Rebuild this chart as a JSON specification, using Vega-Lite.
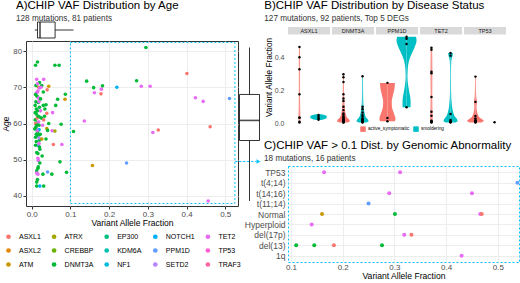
{
"$schema": "https://vega.github.io/schema/vega-lite/v6.json",
"padding": {"left": 1, "top": 0, "right": 0, "bottom": 0},
"config": {
 "font": "Liberation Sans",
 "view": {"stroke": null},
 "axis": {"labelColor": "#4D4D4D", "titleColor": "#000000", "titleFontWeight": "normal", "gridColor": "#EBEBEB", "gridWidth": 0.9, "domain": false, "tickColor": "#333333"},
 "title": {"fontWeight": "normal", "fontSize": 11.5, "subtitleFontSize": 8.2, "subtitleColor": "#333333", "anchor": "start", "color": "#000000", "subtitlePadding": 0},
 "legend": {"labelColor": "#000000"}
},
"datasets": {
 "muts": [
  {"gene":"DNMT3A","vaf":0.010,"age":76.1},{"gene":"DNMT3A","vaf":0.015,"age":77.0},{"gene":"TET2","vaf":0.013,"age":72.2},{"gene":"DNMT3A","vaf":0.020,"age":71.3},
  {"gene":"ATM","vaf":0.018,"age":70.0},{"gene":"TET2","vaf":0.016,"age":69.0},{"gene":"TET2","vaf":0.012,"age":68.4},{"gene":"TET2","vaf":0.014,"age":68.6},
  {"gene":"TET2","vaf":0.020,"age":69.8},{"gene":"DNMT3A","vaf":0.011,"age":66.0},{"gene":"DNMT3A","vaf":0.017,"age":65.8},{"gene":"TET2","vaf":0.019,"age":66.0},
  {"gene":"DNMT3A","vaf":0.009,"age":63.0},{"gene":"DNMT3A","vaf":0.012,"age":62.6},{"gene":"DNMT3A","vaf":0.020,"age":61.8},{"gene":"DNMT3A","vaf":0.009,"age":61.0},
  {"gene":"DNMT3A","vaf":0.015,"age":60.2},{"gene":"ASXL1","vaf":0.010,"age":60.0},{"gene":"DNMT3A","vaf":0.013,"age":59.5},{"gene":"TET2","vaf":0.018,"age":60.5},
  {"gene":"TET2","vaf":0.011,"age":58.8},{"gene":"NOTCH1","vaf":0.019,"age":58.3},{"gene":"DNMT3A","vaf":0.015,"age":57.8},{"gene":"DNMT3A","vaf":0.010,"age":56.2},
  {"gene":"DNMT3A","vaf":0.016,"age":56.6},{"gene":"DNMT3A","vaf":0.020,"age":55.4},{"gene":"PPM1D","vaf":0.017,"age":53.9},{"gene":"DNMT3A","vaf":0.020,"age":53.5},
  {"gene":"DNMT3A","vaf":0.021,"age":52.9},{"gene":"DNMT3A","vaf":0.016,"age":51.7},{"gene":"TET2","vaf":0.016,"age":50.4},{"gene":"TET2","vaf":0.017,"age":49.8},
  {"gene":"DNMT3A","vaf":0.021,"age":49.1},{"gene":"DNMT3A","vaf":0.016,"age":47.6},{"gene":"DNMT3A","vaf":0.013,"age":46.9},{"gene":"TET2","vaf":0.013,"age":46.3},
  {"gene":"TET2","vaf":0.016,"age":46.0},{"gene":"DNMT3A","vaf":0.013,"age":43.8},{"gene":"DNMT3A","vaf":0.013,"age":42.7},{"gene":"NOTCH1","vaf":0.021,"age":42.7},
  {"gene":"DNMT3A","vaf":0.012,"age":64.0},{"gene":"DNMT3A","vaf":0.015,"age":63.5},{"gene":"DNMT3A","vaf":0.011,"age":59.0},{"gene":"TET2","vaf":0.014,"age":58.0},
  {"gene":"DNMT3A","vaf":0.018,"age":57.0},{"gene":"DNMT3A","vaf":0.012,"age":55.0},{"gene":"TET2","vaf":0.019,"age":54.5},{"gene":"DNMT3A","vaf":0.010,"age":54.0},
  {"gene":"DNMT3A","vaf":0.014,"age":67.5},{"gene":"TET2","vaf":0.018,"age":67.0},{"gene":"DNMT3A","vaf":0.011,"age":70.5},{"gene":"TET2","vaf":0.015,"age":71.0},
  {"gene":"DNMT3A","vaf":0.020,"age":64.5},{"gene":"DNMT3A","vaf":0.009,"age":65.0},{"gene":"ASXL1","vaf":0.014,"age":61.5},{"gene":"DNMT3A","vaf":0.017,"age":62.0},
  {"gene":"DNMT3A","vaf":0.012,"age":57.0},{"gene":"DNMT3A","vaf":0.019,"age":59.5},{"gene":"DNMT3A","vaf":0.013,"age":52.0},{"gene":"DNMT3A","vaf":0.017,"age":48.0},
  {"gene":"DNMT3A","vaf":0.015,"age":44.5},{"gene":"DNMT3A","vaf":0.010,"age":68.0},{"gene":"SETD2","vaf":0.019,"age":56.0},{"gene":"DNMT3A","vaf":0.008,"age":58.5},
  {"gene":"TET2","vaf":0.031,"age":72.2},{"gene":"DNMT3A","vaf":0.026,"age":70.5},{"gene":"TET2","vaf":0.024,"age":70.0},{"gene":"ATM","vaf":0.044,"age":70.3},
  {"gene":"ASXL1","vaf":0.040,"age":69.3},{"gene":"DNMT3A","vaf":0.030,"age":68.7},{"gene":"DNMT3A","vaf":0.030,"age":65.0},{"gene":"DNMT3A","vaf":0.037,"age":65.2},
  {"gene":"ASXL1","vaf":0.039,"age":62.8},{"gene":"TET2","vaf":0.054,"age":63.0},{"gene":"DNMT3A","vaf":0.033,"age":62.0},{"gene":"DNMT3A","vaf":0.025,"age":61.5},
  {"gene":"ASXL1","vaf":0.031,"age":61.0},{"gene":"DNMT3A","vaf":0.044,"age":60.0},{"gene":"ATM","vaf":0.039,"age":58.6},{"gene":"DNMT3A","vaf":0.041,"age":58.1},
  {"gene":"TET2","vaf":0.053,"age":58.0},{"gene":"ATRX","vaf":0.060,"age":57.9},{"gene":"DNMT3A","vaf":0.037,"age":55.7},{"gene":"ATM","vaf":0.026,"age":55.7},
  {"gene":"ASXL1","vaf":0.056,"age":54.2},{"gene":"PPM1D","vaf":0.041,"age":46.6},{"gene":"DNMT3A","vaf":0.029,"age":46.0},{"gene":"DNMT3A","vaf":0.052,"age":46.0},
  {"gene":"DNMT3A","vaf":0.031,"age":42.7},{"gene":"DNMT3A","vaf":0.060,"age":76.1},{"gene":"DNMT3A","vaf":0.023,"age":66.8},{"gene":"TET2","vaf":0.028,"age":59.5},
  {"gene":"DNMT3A","vaf":0.022,"age":57.0},{"gene":"DNMT3A","vaf":0.034,"age":64.0},{"gene":"DNMT3A","vaf":0.027,"age":51.0},{"gene":"TET2","vaf":0.023,"age":63.5},
  {"gene":"DNMT3A","vaf":0.071,"age":76.1},{"gene":"DNMT3A","vaf":0.087,"age":68.1},{"gene":"ATM","vaf":0.086,"age":66.7},{"gene":"DNMT3A","vaf":0.067,"age":66.7},
  {"gene":"DNMT3A","vaf":0.062,"age":65.0},{"gene":"DNMT3A","vaf":0.076,"age":59.8},{"gene":"TET2","vaf":0.078,"age":54.2},{"gene":"DNMT3A","vaf":0.073,"age":49.4},
  {"gene":"DNMT3A","vaf":0.090,"age":46.5},
  {"gene":"DNMT3A","vaf":0.142,"age":71.7},{"gene":"DNMT3A","vaf":0.160,"age":69.9},{"gene":"DNMT3A","vaf":0.183,"age":70.4},{"gene":"TET2","vaf":0.180,"age":69.5},
  {"gene":"TET2","vaf":0.162,"age":68.5},{"gene":"ASXL1","vaf":0.179,"age":68.2},{"gene":"NOTCH1","vaf":0.220,"age":70.0},{"gene":"TET2","vaf":0.136,"age":60.7},
  {"gene":"DNMT3A","vaf":0.108,"age":57.8},{"gene":"ATM","vaf":0.157,"age":48.4},{"gene":"PPM1D","vaf":0.245,"age":49.1},{"gene":"DNMT3A","vaf":0.295,"age":81.0},
  {"gene":"ASXL1","vaf":0.401,"age":73.8},{"gene":"DNMT3A","vaf":0.271,"age":71.8},{"gene":"TET2","vaf":0.283,"age":70.3},{"gene":"TET2","vaf":0.306,"age":70.3},
  {"gene":"TET2","vaf":0.423,"age":67.1},{"gene":"TET2","vaf":0.443,"age":66.1},{"gene":"PPM1D","vaf":0.511,"age":66.9},{"gene":"ASXL1","vaf":0.461,"age":59.1},
  {"gene":"ASXL1","vaf":0.327,"age":58.2},{"gene":"TET2","vaf":0.313,"age":57.5},{"gene":"TET2","vaf":0.456,"age":38.6}
 ],
 "bdata": [
  {"gene":"ASXL1","status":"active_symptomatic","vaf":0.462},{"gene":"ASXL1","status":"active_symptomatic","vaf":0.40},{"gene":"ASXL1","status":"active_symptomatic","vaf":0.327},{"gene":"ASXL1","status":"active_symptomatic","vaf":0.176},
  {"gene":"ASXL1","status":"active_symptomatic","vaf":0.035},{"gene":"ASXL1","status":"active_symptomatic","vaf":0.033},{"gene":"ASXL1","status":"active_symptomatic","vaf":0.005},{"gene":"ASXL1","status":"active_symptomatic","vaf":0.01},
  {"gene":"ASXL1","status":"smoldering","vaf":0.05},{"gene":"ASXL1","status":"smoldering","vaf":0.04},{"gene":"ASXL1","status":"smoldering","vaf":0.03},{"gene":"ASXL1","status":"smoldering","vaf":0.022},
  {"gene":"DNMT3A","status":"active_symptomatic","vaf":0.297},{"gene":"DNMT3A","status":"active_symptomatic","vaf":0.279},{"gene":"DNMT3A","status":"active_symptomatic","vaf":0.25},{"gene":"DNMT3A","status":"active_symptomatic","vaf":0.176},
  {"gene":"DNMT3A","status":"active_symptomatic","vaf":0.15},{"gene":"DNMT3A","status":"active_symptomatic","vaf":0.135},{"gene":"DNMT3A","status":"active_symptomatic","vaf":0.10},{"gene":"DNMT3A","status":"active_symptomatic","vaf":0.08},
  {"gene":"DNMT3A","status":"active_symptomatic","vaf":0.06},{"gene":"DNMT3A","status":"active_symptomatic","vaf":0.05},{"gene":"DNMT3A","status":"active_symptomatic","vaf":0.04},{"gene":"DNMT3A","status":"active_symptomatic","vaf":0.035},
  {"gene":"DNMT3A","status":"active_symptomatic","vaf":0.03},{"gene":"DNMT3A","status":"active_symptomatic","vaf":0.025},{"gene":"DNMT3A","status":"active_symptomatic","vaf":0.02},{"gene":"DNMT3A","status":"active_symptomatic","vaf":0.018},
  {"gene":"DNMT3A","status":"active_symptomatic","vaf":0.015},{"gene":"DNMT3A","status":"active_symptomatic","vaf":0.013},{"gene":"DNMT3A","status":"active_symptomatic","vaf":0.012},{"gene":"DNMT3A","status":"active_symptomatic","vaf":0.01},
  {"gene":"DNMT3A","status":"active_symptomatic","vaf":0.009},{"gene":"DNMT3A","status":"active_symptomatic","vaf":0.008},{"gene":"DNMT3A","status":"active_symptomatic","vaf":0.006},{"gene":"DNMT3A","status":"active_symptomatic","vaf":0.005},
  {"gene":"DNMT3A","status":"smoldering","vaf":0.285},{"gene":"DNMT3A","status":"smoldering","vaf":0.10},{"gene":"DNMT3A","status":"smoldering","vaf":0.085},{"gene":"DNMT3A","status":"smoldering","vaf":0.065},
  {"gene":"DNMT3A","status":"smoldering","vaf":0.05},{"gene":"DNMT3A","status":"smoldering","vaf":0.04},{"gene":"DNMT3A","status":"smoldering","vaf":0.03},{"gene":"DNMT3A","status":"smoldering","vaf":0.025},
  {"gene":"DNMT3A","status":"smoldering","vaf":0.02},{"gene":"DNMT3A","status":"smoldering","vaf":0.015},{"gene":"DNMT3A","status":"smoldering","vaf":0.012},{"gene":"DNMT3A","status":"smoldering","vaf":0.01},
  {"gene":"DNMT3A","status":"smoldering","vaf":0.008},{"gene":"DNMT3A","status":"smoldering","vaf":0.005},
  {"gene":"PPM1D","status":"active_symptomatic","vaf":0.245},{"gene":"PPM1D","status":"active_symptomatic","vaf":0.032},{"gene":"PPM1D","status":"active_symptomatic","vaf":0.012},
  {"gene":"PPM1D","status":"smoldering","vaf":0.525},{"gene":"PPM1D","status":"smoldering","vaf":0.513},{"gene":"PPM1D","status":"smoldering","vaf":0.48},{"gene":"PPM1D","status":"smoldering","vaf":0.097},
  {"gene":"TET2","status":"active_symptomatic","vaf":0.458},{"gene":"TET2","status":"active_symptomatic","vaf":0.446},{"gene":"TET2","status":"active_symptomatic","vaf":0.313},{"gene":"TET2","status":"active_symptomatic","vaf":0.303},
  {"gene":"TET2","status":"active_symptomatic","vaf":0.16},{"gene":"TET2","status":"active_symptomatic","vaf":0.07},{"gene":"TET2","status":"active_symptomatic","vaf":0.046},{"gene":"TET2","status":"active_symptomatic","vaf":0.015},
  {"gene":"TET2","status":"active_symptomatic","vaf":0.012},{"gene":"TET2","status":"active_symptomatic","vaf":0.01},{"gene":"TET2","status":"active_symptomatic","vaf":0.008},{"gene":"TET2","status":"active_symptomatic","vaf":0.005},
  {"gene":"TET2","status":"smoldering","vaf":0.426},{"gene":"TET2","status":"smoldering","vaf":0.41},{"gene":"TET2","status":"smoldering","vaf":0.056},{"gene":"TET2","status":"smoldering","vaf":0.02},
  {"gene":"TET2","status":"smoldering","vaf":0.012},{"gene":"TET2","status":"smoldering","vaf":0.01},{"gene":"TET2","status":"smoldering","vaf":0.008},{"gene":"TET2","status":"smoldering","vaf":0.005},
  {"gene":"TP53","status":"active_symptomatic","vaf":0.283},{"gene":"TP53","status":"active_symptomatic","vaf":0.13},{"gene":"TP53","status":"active_symptomatic","vaf":0.045},{"gene":"TP53","status":"active_symptomatic","vaf":0.03},
  {"gene":"TP53","status":"active_symptomatic","vaf":0.02},{"gene":"TP53","status":"active_symptomatic","vaf":0.015},{"gene":"TP53","status":"active_symptomatic","vaf":0.012},{"gene":"TP53","status":"active_symptomatic","vaf":0.01},
  {"gene":"TP53","status":"active_symptomatic","vaf":0.008},{"gene":"TP53","status":"active_symptomatic","vaf":0.005},
  {"gene":"TP53","status":"smoldering","vaf":0.006},
  {"gene":"ASXL1","status":"active_symptomatic","vaf":0.005,"density":0.5},{"gene":"ASXL1","status":"active_symptomatic","vaf":0.03,"density":0.9},{"gene":"ASXL1","status":"active_symptomatic","vaf":0.1,"density":0.7},{"gene":"ASXL1","status":"active_symptomatic","vaf":0.2,"density":0.6},{"gene":"ASXL1","status":"active_symptomatic","vaf":0.3,"density":0.6},{"gene":"ASXL1","status":"active_symptomatic","vaf":0.4,"density":0.6},{"gene":"ASXL1","status":"active_symptomatic","vaf":0.462,"density":0.4},
  {"gene":"ASXL1","status":"smoldering","vaf":0.02,"density":2.5},{"gene":"ASXL1","status":"smoldering","vaf":0.026,"density":6.5},{"gene":"ASXL1","status":"smoldering","vaf":0.035,"density":8.3},{"gene":"ASXL1","status":"smoldering","vaf":0.045,"density":8},{"gene":"ASXL1","status":"smoldering","vaf":0.05,"density":6},{"gene":"ASXL1","status":"smoldering","vaf":0.055,"density":3},
  {"gene":"DNMT3A","status":"active_symptomatic","vaf":0.005,"density":4},{"gene":"DNMT3A","status":"active_symptomatic","vaf":0.012,"density":6.5},{"gene":"DNMT3A","status":"active_symptomatic","vaf":0.02,"density":6},{"gene":"DNMT3A","status":"active_symptomatic","vaf":0.035,"density":3.5},{"gene":"DNMT3A","status":"active_symptomatic","vaf":0.05,"density":2.5},{"gene":"DNMT3A","status":"active_symptomatic","vaf":0.08,"density":1.5},{"gene":"DNMT3A","status":"active_symptomatic","vaf":0.12,"density":1},{"gene":"DNMT3A","status":"active_symptomatic","vaf":0.2,"density":0.6},{"gene":"DNMT3A","status":"active_symptomatic","vaf":0.297,"density":0.4},
  {"gene":"DNMT3A","status":"smoldering","vaf":0.005,"density":4},{"gene":"DNMT3A","status":"smoldering","vaf":0.012,"density":6},{"gene":"DNMT3A","status":"smoldering","vaf":0.022,"density":5.5},{"gene":"DNMT3A","status":"smoldering","vaf":0.035,"density":3.5},{"gene":"DNMT3A","status":"smoldering","vaf":0.05,"density":2.5},{"gene":"DNMT3A","status":"smoldering","vaf":0.08,"density":1.5},{"gene":"DNMT3A","status":"smoldering","vaf":0.12,"density":0.8},{"gene":"DNMT3A","status":"smoldering","vaf":0.2,"density":0.5},{"gene":"DNMT3A","status":"smoldering","vaf":0.285,"density":0.4},
  {"gene":"PPM1D","status":"active_symptomatic","vaf":0.012,"density":7.5},{"gene":"PPM1D","status":"active_symptomatic","vaf":0.03,"density":8},{"gene":"PPM1D","status":"active_symptomatic","vaf":0.06,"density":6.5},{"gene":"PPM1D","status":"active_symptomatic","vaf":0.1,"density":4.5},{"gene":"PPM1D","status":"active_symptomatic","vaf":0.13,"density":4.3},{"gene":"PPM1D","status":"active_symptomatic","vaf":0.17,"density":5.5},{"gene":"PPM1D","status":"active_symptomatic","vaf":0.21,"density":7},{"gene":"PPM1D","status":"active_symptomatic","vaf":0.245,"density":7.5},
  {"gene":"PPM1D","status":"smoldering","vaf":0.097,"density":4},{"gene":"PPM1D","status":"smoldering","vaf":0.14,"density":4},{"gene":"PPM1D","status":"smoldering","vaf":0.18,"density":3},{"gene":"PPM1D","status":"smoldering","vaf":0.23,"density":1.6},{"gene":"PPM1D","status":"smoldering","vaf":0.28,"density":0.9},{"gene":"PPM1D","status":"smoldering","vaf":0.33,"density":1.2},{"gene":"PPM1D","status":"smoldering","vaf":0.38,"density":2.5},{"gene":"PPM1D","status":"smoldering","vaf":0.42,"density":5},{"gene":"PPM1D","status":"smoldering","vaf":0.46,"density":8},{"gene":"PPM1D","status":"smoldering","vaf":0.5,"density":10},{"gene":"PPM1D","status":"smoldering","vaf":0.525,"density":9.5},
  {"gene":"TET2","status":"active_symptomatic","vaf":0.005,"density":1.3},{"gene":"TET2","status":"active_symptomatic","vaf":0.03,"density":1.2},{"gene":"TET2","status":"active_symptomatic","vaf":0.1,"density":0.9},{"gene":"TET2","status":"active_symptomatic","vaf":0.2,"density":0.8},{"gene":"TET2","status":"active_symptomatic","vaf":0.3,"density":0.9},{"gene":"TET2","status":"active_symptomatic","vaf":0.4,"density":0.8},{"gene":"TET2","status":"active_symptomatic","vaf":0.458,"density":0.6},
  {"gene":"TET2","status":"smoldering","vaf":0.005,"density":5},{"gene":"TET2","status":"smoldering","vaf":0.012,"density":7},{"gene":"TET2","status":"smoldering","vaf":0.025,"density":6.5},{"gene":"TET2","status":"smoldering","vaf":0.04,"density":4.5},{"gene":"TET2","status":"smoldering","vaf":0.06,"density":3},{"gene":"TET2","status":"smoldering","vaf":0.1,"density":1.5},{"gene":"TET2","status":"smoldering","vaf":0.2,"density":0.5},{"gene":"TET2","status":"smoldering","vaf":0.3,"density":0.4},{"gene":"TET2","status":"smoldering","vaf":0.38,"density":0.8},{"gene":"TET2","status":"smoldering","vaf":0.41,"density":2},{"gene":"TET2","status":"smoldering","vaf":0.426,"density":2.5},
  {"gene":"TP53","status":"active_symptomatic","vaf":0.005,"density":6},{"gene":"TP53","status":"active_symptomatic","vaf":0.015,"density":8.3},{"gene":"TP53","status":"active_symptomatic","vaf":0.03,"density":5},{"gene":"TP53","status":"active_symptomatic","vaf":0.06,"density":2},{"gene":"TP53","status":"active_symptomatic","vaf":0.1,"density":1},{"gene":"TP53","status":"active_symptomatic","vaf":0.13,"density":1.5},{"gene":"TP53","status":"active_symptomatic","vaf":0.16,"density":0.8},{"gene":"TP53","status":"active_symptomatic","vaf":0.22,"density":0.5},{"gene":"TP53","status":"active_symptomatic","vaf":0.283,"density":0.4}
 ],
 "cdata": [
  {"abn":"TP53","vaf":0.164,"gene":"TET2"},{"abn":"TP53","vaf":0.311,"gene":"TET2"},
  {"abn":"t(4;14)","vaf":0.538,"gene":"PPM1D"},
  {"abn":"t(14;16)","vaf":0.29,"gene":"TET2"},{"abn":"t(14;16)","vaf":0.45,"gene":"TET2"},
  {"abn":"t(11;14)","vaf":0.25,"gene":"PPM1D"},
  {"abn":"Normal","vaf":0.16,"gene":"ATM"},{"abn":"Normal","vaf":0.301,"gene":"DNMT3A"},{"abn":"Normal","vaf":0.466,"gene":"TET2"},{"abn":"Normal","vaf":0.469,"gene":"ASXL1"},
  {"abn":"Hyperploid","vaf":0.14,"gene":"TET2"},
  {"abn":"del(17p)","vaf":0.319,"gene":"TET2"},{"abn":"del(17p)","vaf":0.333,"gene":"ASXL1"},
  {"abn":"del(13)","vaf":0.11,"gene":"DNMT3A"},{"abn":"del(13)","vaf":0.145,"gene":"DNMT3A"},{"abn":"del(13)","vaf":0.183,"gene":"ASXL1"},{"abn":"del(13)","vaf":0.276,"gene":"DNMT3A"},
  {"abn":"1q","vaf":0.43,"gene":"TET2"}
 ]
},
"columns": 2,
"bounds": "flush",
"align": "each",
"spacing": {"row": 0, "column": 261},
"concat": [
 {
  "columns": 2,
  "bounds": "flush",
  "align": "each",
  "spacing": {"row": 1, "column": 1},
  "concat": [
   {
    "data": {"name": "muts"},
    "width": 212, "height": 20,
    "title": {"text": "A)CHIP VAF Distribution by Age", "subtitle": "128 mutations, 81 patients", "dx": -10, "offset": -2},
    "mark": {"type": "boxplot", "extent": 1.5, "outliers": false, "size": 16,
      "box": {"fill": "white", "stroke": "black", "strokeWidth": 0.8},
      "median": {"color": "black", "thickness": 1.6},
      "rule": {"color": "black", "strokeWidth": 0.8}},
    "encoding": {"x": {"field": "vaf", "type": "quantitative", "scale": {"domain": [-0.0147, 0.533], "nice": false, "zero": false}, "axis": null}}
   },
   {
    "data": {"values": [{}]},
    "width": 1, "height": 1,
    "mark": {"type": "point", "opacity": 0},
    "encoding": {}
   },
   {
    "data": {"name": "muts"},
    "width": 212, "height": 165,
    "view": {"stroke": "#333333", "strokeWidth": 1},
    "layer": [
     {
      "mark": {"type": "point", "filled": true, "size": 13, "opacity": 1},
      "encoding": {
       "x": {"field": "vaf", "type": "quantitative", "scale": {"domain": [-0.0147, 0.533], "nice": false, "zero": false},
        "axis": {"title": "Variant Allele Fraction", "values": [0, 0.1, 0.2, 0.3, 0.4, 0.5], "format": ".1f",
         "tickSize": 3, "labelFontSize": 8, "labelPadding": 1, "titleFontSize": 8.5, "titlePadding": 0}},
       "y": {"field": "age", "type": "quantitative", "scale": {"domain": [37.2, 82.8], "nice": false, "zero": false},
        "axis": {"title": "Age", "values": [40, 50, 60, 70, 80],
         "tickSize": 3, "labelFontSize": 7.8, "labelPadding": 1.5, "titleFontSize": 8.5, "titlePadding": 2}},
       "color": {"field": "gene", "type": "nominal",
        "scale": {"domain": ["ASXL1","ASXL2","ATM","ATRX","CREBBP","DNMT3A","EP300","KDM6A","NF1","NOTCH1","PPM1D","SETD2","TET2","TP53","TRAF3"],
                  "range": ["#F8766D","#E58700","#C99800","#A3A500","#6BB100","#00BA38","#00BF7D","#00C0AF","#00BCD8","#00B0F6","#619CFF","#B983FF","#E76BF3","#FD61D1","#FF67A4"]},
        "legend": {"orient": "none", "legendX": -21, "legendY": 213, "title": null, "columns": 5, "symbolType": "circle", "symbolSize": 22, "labelFontSize": 7, "labelOffset": 7, "columnPadding": 9.6, "rowPadding": 6, "symbolStrokeWidth": 0, "symbolOpacity": 1}}
      }
     },
     {
      "data": {"values": [{}]},
      "mark": {"type": "rect", "fillOpacity": 0, "stroke": "#00BFFF", "strokeDash": [2, 2], "strokeWidth": 1},
      "encoding": {"x": {"datum": 0.1}, "x2": {"datum": 0.525}, "y": {"datum": 37.9}, "y2": {"datum": 82.4}}
     },
     {
      "data": {"values": [{}]},
      "mark": {"type": "rect", "fillOpacity": 0, "stroke": "#00BFFF", "strokeDash": [2, 2], "strokeWidth": 0.8},
      "encoding": {"x": {"datum": 0.525}, "x2": {"datum": 0.58}, "y": {"datum": 49.48}, "y2": {"datum": 49.52}}
     },
     {
      "data": {"values": [{}]},
      "mark": {"type": "point", "shape": "triangle-right", "filled": true, "color": "#00BFFF", "size": 22, "opacity": 1},
      "encoding": {"x": {"datum": 0.586}, "y": {"datum": 49.5}}
     }
    ]
   },
   {
    "data": {"name": "muts"},
    "width": 21, "height": 165,
    "mark": {"type": "boxplot", "extent": 1.5, "outliers": false, "size": 20,
      "box": {"fill": "white", "stroke": "black", "strokeWidth": 0.8},
      "median": {"color": "black", "thickness": 1.6},
      "rule": {"color": "black", "strokeWidth": 0.8}},
    "encoding": {"y": {"field": "age", "type": "quantitative", "scale": {"domain": [37.2, 82.8], "nice": false, "zero": false}, "axis": null}}
   }
  ]
 },
 {
  "data": {"values": [{}]},
  "width": 1, "height": 7,
  "mark": {"type": "point", "opacity": 0},
  "encoding": {}
 },
 {
  "data": {"values": [{}]},
  "width": 1, "height": 138.7,
  "mark": {"type": "point", "opacity": 0},
  "encoding": {}
 },
 {
  "title": {"text": "B)CHIP VAF Distribution by Disease Status", "subtitle": "127 mutations, 92 patients, Top 5 DEGs", "offset": 5, "dx": 0},
  "bounds": "flush",
  "spacing": 2,
  "hconcat": [
   {
    "data": {"name": "bdata"},
    "transform": [{"filter": "datum.gene == 'ASXL1'"}],
    "width": 42, "height": 100,
    "resolve": {"scale": {"x": "independent"}},
    "layer": [
     {"transform": [{"aggregate": [{"op": "count", "as": "n"}], "groupby": ["gene"]}],
      "mark": {"type": "rect", "color": "#D9D9D9"},
      "encoding": {"y": {"datum": 0.5385, "type": "quantitative", "scale": {"domain": [-0.0224, 0.5836], "nice": false, "zero": false},
        "axis": {"title": "Variant Allele Fraction", "values": [0, 0.1, 0.2, 0.3, 0.4, 0.5], "format": ".1f", "labelExpr": "round(datum.value*10) % 2 == 0 ? datum.label : ''", "ticks": false, "labelFontSize": 7, "labelPadding": 4, "titleFontSize": 8.2, "titlePadding": 1}},
       "y2": {"datum": 0.5836}}},
     {"transform": [{"aggregate": [{"op": "count", "as": "n"}], "groupby": ["gene"]}],
      "mark": {"type": "text", "fontSize": 5.5, "color": "#1A1A1A"},
      "encoding": {"y": {"datum": 0.561, "type": "quantitative"}, "text": {"field": "gene"}}},
     {"transform": [{"filter": "isValid(datum.density) && datum.status == 'active_symptomatic'"}],
      "mark": {"type": "area", "orient": "horizontal", "interpolate": "monotone"},
      "encoding": {"y": {"field": "vaf", "type": "quantitative"},
       "x": {"field": "density", "type": "quantitative", "stack": null, "scale": {"domain": [-11.45, 30.55], "nice": false, "zero": false}, "axis": null},
       "fill": {"field": "status", "type": "nominal", "scale": {"domain": ["active_symptomatic", "smoldering"], "range": ["#F8766D", "#00BFC4"]},
        "legend": {"orient": "none", "legendX": 334, "legendY": 106, "direction": "horizontal", "title": null, "symbolType": "square", "symbolSize": 30, "labelFontSize": 4.7, "symbolStrokeWidth": 0, "columnPadding": 3, "labelOffset": 2, "symbolOpacity": 1}}}},
     {"transform": [{"filter": "isValid(datum.density) && datum.status == 'active_symptomatic'"}],
      "mark": {"type": "area", "orient": "horizontal", "interpolate": "monotone"},
      "encoding": {"y": {"field": "vaf", "type": "quantitative"},
       "x": {"field": "density", "type": "quantitative", "stack": null, "scale": {"domain": [-30.55, 11.45], "reverse": true, "nice": false, "zero": false}, "axis": null},
       "fill": {"field": "status", "type": "nominal"}}},
     {"transform": [{"filter": "isValid(datum.density) && datum.status == 'smoldering'"}],
      "mark": {"type": "area", "orient": "horizontal", "interpolate": "monotone"},
      "encoding": {"y": {"field": "vaf", "type": "quantitative"},
       "x": {"field": "density", "type": "quantitative", "stack": null, "scale": {"domain": [-30.55, 11.45], "nice": false, "zero": false}, "axis": null},
       "fill": {"field": "status", "type": "nominal"}}},
     {"transform": [{"filter": "isValid(datum.density) && datum.status == 'smoldering'"}],
      "mark": {"type": "area", "orient": "horizontal", "interpolate": "monotone"},
      "encoding": {"y": {"field": "vaf", "type": "quantitative"},
       "x": {"field": "density", "type": "quantitative", "stack": null, "scale": {"domain": [-11.45, 30.55], "reverse": true, "nice": false, "zero": false}, "axis": null},
       "fill": {"field": "status", "type": "nominal"}}},
     {"transform": [{"filter": "!isValid(datum.density)"}],
      "mark": {"type": "point", "filled": true, "color": "black", "size": 6, "opacity": 1},
      "encoding": {"x": {"field": "status", "type": "nominal", "scale": {"type": "point", "padding": 0.6, "domain": ["active_symptomatic", "smoldering"]}, "axis": null},
       "y": {"field": "vaf", "type": "quantitative"}}}
    ]
   },
   {
    "data": {"name": "bdata"},
    "transform": [{"filter": "datum.gene == 'DNMT3A'"}],
    "width": 42, "height": 100,
    "resolve": {"scale": {"x": "independent"}},
    "layer": [
     {"transform": [{"aggregate": [{"op": "count", "as": "n"}], "groupby": ["gene"]}],
      "mark": {"type": "rect", "color": "#D9D9D9"},
      "encoding": {"y": {"datum": 0.5385, "type": "quantitative", "scale": {"domain": [-0.0224, 0.5836], "nice": false, "zero": false},
        "axis": {"title": null, "labels": false, "values": [0, 0.1, 0.2, 0.3, 0.4, 0.5], "ticks": false}},
       "y2": {"datum": 0.5836}}},
     {"transform": [{"aggregate": [{"op": "count", "as": "n"}], "groupby": ["gene"]}],
      "mark": {"type": "text", "fontSize": 5.5, "color": "#1A1A1A"},
      "encoding": {"y": {"datum": 0.561, "type": "quantitative"}, "text": {"field": "gene"}}},
     {"transform": [{"filter": "isValid(datum.density) && datum.status == 'active_symptomatic'"}],
      "mark": {"type": "area", "orient": "horizontal", "interpolate": "monotone"},
      "encoding": {"y": {"field": "vaf", "type": "quantitative"},
       "x": {"field": "density", "type": "quantitative", "stack": null, "scale": {"domain": [-11.45, 30.55], "nice": false, "zero": false}, "axis": null},
       "fill": {"field": "status", "type": "nominal"}}},
     {"transform": [{"filter": "isValid(datum.density) && datum.status == 'active_symptomatic'"}],
      "mark": {"type": "area", "orient": "horizontal", "interpolate": "monotone"},
      "encoding": {"y": {"field": "vaf", "type": "quantitative"},
       "x": {"field": "density", "type": "quantitative", "stack": null, "scale": {"domain": [-30.55, 11.45], "reverse": true, "nice": false, "zero": false}, "axis": null},
       "fill": {"field": "status", "type": "nominal"}}},
     {"transform": [{"filter": "isValid(datum.density) && datum.status == 'smoldering'"}],
      "mark": {"type": "area", "orient": "horizontal", "interpolate": "monotone"},
      "encoding": {"y": {"field": "vaf", "type": "quantitative"},
       "x": {"field": "density", "type": "quantitative", "stack": null, "scale": {"domain": [-30.55, 11.45], "nice": false, "zero": false}, "axis": null},
       "fill": {"field": "status", "type": "nominal"}}},
     {"transform": [{"filter": "isValid(datum.density) && datum.status == 'smoldering'"}],
      "mark": {"type": "area", "orient": "horizontal", "interpolate": "monotone"},
      "encoding": {"y": {"field": "vaf", "type": "quantitative"},
       "x": {"field": "density", "type": "quantitative", "stack": null, "scale": {"domain": [-11.45, 30.55], "reverse": true, "nice": false, "zero": false}, "axis": null},
       "fill": {"field": "status", "type": "nominal"}}},
     {"transform": [{"filter": "!isValid(datum.density)"}],
      "mark": {"type": "point", "filled": true, "color": "black", "size": 6, "opacity": 1},
      "encoding": {"x": {"field": "status", "type": "nominal", "scale": {"type": "point", "padding": 0.6, "domain": ["active_symptomatic", "smoldering"]}, "axis": null},
       "y": {"field": "vaf", "type": "quantitative"}}}
    ]
   },
   {
    "data": {"name": "bdata"},
    "transform": [{"filter": "datum.gene == 'PPM1D'"}],
    "width": 42, "height": 100,
    "resolve": {"scale": {"x": "independent"}},
    "layer": [
     {"transform": [{"aggregate": [{"op": "count", "as": "n"}], "groupby": ["gene"]}],
      "mark": {"type": "rect", "color": "#D9D9D9"},
      "encoding": {"y": {"datum": 0.5385, "type": "quantitative", "scale": {"domain": [-0.0224, 0.5836], "nice": false, "zero": false},
        "axis": {"title": null, "labels": false, "values": [0, 0.1, 0.2, 0.3, 0.4, 0.5], "ticks": false}},
       "y2": {"datum": 0.5836}}},
     {"transform": [{"aggregate": [{"op": "count", "as": "n"}], "groupby": ["gene"]}],
      "mark": {"type": "text", "fontSize": 5.5, "color": "#1A1A1A"},
      "encoding": {"y": {"datum": 0.561, "type": "quantitative"}, "text": {"field": "gene"}}},
     {"transform": [{"filter": "isValid(datum.density) && datum.status == 'active_symptomatic'"}],
      "mark": {"type": "area", "orient": "horizontal", "interpolate": "monotone"},
      "encoding": {"y": {"field": "vaf", "type": "quantitative"},
       "x": {"field": "density", "type": "quantitative", "stack": null, "scale": {"domain": [-11.45, 30.55], "nice": false, "zero": false}, "axis": null},
       "fill": {"field": "status", "type": "nominal"}}},
     {"transform": [{"filter": "isValid(datum.density) && datum.status == 'active_symptomatic'"}],
      "mark": {"type": "area", "orient": "horizontal", "interpolate": "monotone"},
      "encoding": {"y": {"field": "vaf", "type": "quantitative"},
       "x": {"field": "density", "type": "quantitative", "stack": null, "scale": {"domain": [-30.55, 11.45], "reverse": true, "nice": false, "zero": false}, "axis": null},
       "fill": {"field": "status", "type": "nominal"}}},
     {"transform": [{"filter": "isValid(datum.density) && datum.status == 'smoldering'"}],
      "mark": {"type": "area", "orient": "horizontal", "interpolate": "monotone"},
      "encoding": {"y": {"field": "vaf", "type": "quantitative"},
       "x": {"field": "density", "type": "quantitative", "stack": null, "scale": {"domain": [-30.55, 11.45], "nice": false, "zero": false}, "axis": null},
       "fill": {"field": "status", "type": "nominal"}}},
     {"transform": [{"filter": "isValid(datum.density) && datum.status == 'smoldering'"}],
      "mark": {"type": "area", "orient": "horizontal", "interpolate": "monotone"},
      "encoding": {"y": {"field": "vaf", "type": "quantitative"},
       "x": {"field": "density", "type": "quantitative", "stack": null, "scale": {"domain": [-11.45, 30.55], "reverse": true, "nice": false, "zero": false}, "axis": null},
       "fill": {"field": "status", "type": "nominal"}}},
     {"transform": [{"filter": "!isValid(datum.density)"}],
      "mark": {"type": "point", "filled": true, "color": "black", "size": 6, "opacity": 1},
      "encoding": {"x": {"field": "status", "type": "nominal", "scale": {"type": "point", "padding": 0.6, "domain": ["active_symptomatic", "smoldering"]}, "axis": null},
       "y": {"field": "vaf", "type": "quantitative"}}}
    ]
   },
   {
    "data": {"name": "bdata"},
    "transform": [{"filter": "datum.gene == 'TET2'"}],
    "width": 42, "height": 100,
    "resolve": {"scale": {"x": "independent"}},
    "layer": [
     {"transform": [{"aggregate": [{"op": "count", "as": "n"}], "groupby": ["gene"]}],
      "mark": {"type": "rect", "color": "#D9D9D9"},
      "encoding": {"y": {"datum": 0.5385, "type": "quantitative", "scale": {"domain": [-0.0224, 0.5836], "nice": false, "zero": false},
        "axis": {"title": null, "labels": false, "values": [0, 0.1, 0.2, 0.3, 0.4, 0.5], "ticks": false}},
       "y2": {"datum": 0.5836}}},
     {"transform": [{"aggregate": [{"op": "count", "as": "n"}], "groupby": ["gene"]}],
      "mark": {"type": "text", "fontSize": 5.5, "color": "#1A1A1A"},
      "encoding": {"y": {"datum": 0.561, "type": "quantitative"}, "text": {"field": "gene"}}},
     {"transform": [{"filter": "isValid(datum.density) && datum.status == 'active_symptomatic'"}],
      "mark": {"type": "area", "orient": "horizontal", "interpolate": "monotone"},
      "encoding": {"y": {"field": "vaf", "type": "quantitative"},
       "x": {"field": "density", "type": "quantitative", "stack": null, "scale": {"domain": [-11.45, 30.55], "nice": false, "zero": false}, "axis": null},
       "fill": {"field": "status", "type": "nominal"}}},
     {"transform": [{"filter": "isValid(datum.density) && datum.status == 'active_symptomatic'"}],
      "mark": {"type": "area", "orient": "horizontal", "interpolate": "monotone"},
      "encoding": {"y": {"field": "vaf", "type": "quantitative"},
       "x": {"field": "density", "type": "quantitative", "stack": null, "scale": {"domain": [-30.55, 11.45], "reverse": true, "nice": false, "zero": false}, "axis": null},
       "fill": {"field": "status", "type": "nominal"}}},
     {"transform": [{"filter": "isValid(datum.density) && datum.status == 'smoldering'"}],
      "mark": {"type": "area", "orient": "horizontal", "interpolate": "monotone"},
      "encoding": {"y": {"field": "vaf", "type": "quantitative"},
       "x": {"field": "density", "type": "quantitative", "stack": null, "scale": {"domain": [-30.55, 11.45], "nice": false, "zero": false}, "axis": null},
       "fill": {"field": "status", "type": "nominal"}}},
     {"transform": [{"filter": "isValid(datum.density) && datum.status == 'smoldering'"}],
      "mark": {"type": "area", "orient": "horizontal", "interpolate": "monotone"},
      "encoding": {"y": {"field": "vaf", "type": "quantitative"},
       "x": {"field": "density", "type": "quantitative", "stack": null, "scale": {"domain": [-11.45, 30.55], "reverse": true, "nice": false, "zero": false}, "axis": null},
       "fill": {"field": "status", "type": "nominal"}}},
     {"transform": [{"filter": "!isValid(datum.density)"}],
      "mark": {"type": "point", "filled": true, "color": "black", "size": 6, "opacity": 1},
      "encoding": {"x": {"field": "status", "type": "nominal", "scale": {"type": "point", "padding": 0.6, "domain": ["active_symptomatic", "smoldering"]}, "axis": null},
       "y": {"field": "vaf", "type": "quantitative"}}}
    ]
   },
   {
    "data": {"name": "bdata"},
    "transform": [{"filter": "datum.gene == 'TP53'"}],
    "width": 42, "height": 100,
    "resolve": {"scale": {"x": "independent"}},
    "layer": [
     {"transform": [{"aggregate": [{"op": "count", "as": "n"}], "groupby": ["gene"]}],
      "mark": {"type": "rect", "color": "#D9D9D9"},
      "encoding": {"y": {"datum": 0.5385, "type": "quantitative", "scale": {"domain": [-0.0224, 0.5836], "nice": false, "zero": false},
        "axis": {"title": null, "labels": false, "values": [0, 0.1, 0.2, 0.3, 0.4, 0.5], "ticks": false}},
       "y2": {"datum": 0.5836}}},
     {"transform": [{"aggregate": [{"op": "count", "as": "n"}], "groupby": ["gene"]}],
      "mark": {"type": "text", "fontSize": 5.5, "color": "#1A1A1A"},
      "encoding": {"y": {"datum": 0.561, "type": "quantitative"}, "text": {"field": "gene"}}},
     {"transform": [{"filter": "isValid(datum.density) && datum.status == 'active_symptomatic'"}],
      "mark": {"type": "area", "orient": "horizontal", "interpolate": "monotone"},
      "encoding": {"y": {"field": "vaf", "type": "quantitative"},
       "x": {"field": "density", "type": "quantitative", "stack": null, "scale": {"domain": [-11.45, 30.55], "nice": false, "zero": false}, "axis": null},
       "fill": {"field": "status", "type": "nominal"}}},
     {"transform": [{"filter": "isValid(datum.density) && datum.status == 'active_symptomatic'"}],
      "mark": {"type": "area", "orient": "horizontal", "interpolate": "monotone"},
      "encoding": {"y": {"field": "vaf", "type": "quantitative"},
       "x": {"field": "density", "type": "quantitative", "stack": null, "scale": {"domain": [-30.55, 11.45], "reverse": true, "nice": false, "zero": false}, "axis": null},
       "fill": {"field": "status", "type": "nominal"}}},
     {"transform": [{"filter": "!isValid(datum.density)"}],
      "mark": {"type": "point", "filled": true, "color": "black", "size": 6, "opacity": 1},
      "encoding": {"x": {"field": "status", "type": "nominal", "scale": {"type": "point", "padding": 0.6, "domain": ["active_symptomatic", "smoldering"]}, "axis": null},
       "y": {"field": "vaf", "type": "quantitative"}}}
    ]
   }
  ]
 },
 {
  "data": {"values": [{}]},
  "width": 1, "height": 1,
  "mark": {"type": "point", "opacity": 0},
  "encoding": {}
 },
 {
  "data": {"name": "cdata"},
  "width": 231, "height": 96,
  "view": {"stroke": "#00BFFF", "strokeDash": [2, 2], "strokeWidth": 1},
  "title": {"text": "C)CHIP VAF > 0.1 Dist. by Genomic Abnormality", "subtitle": "18 mutations, 16 patients", "frame": "group", "dx": -24, "offset": 4},
  "mark": {"type": "point", "filled": true, "size": 16, "opacity": 1},
  "encoding": {
   "x": {"field": "vaf", "type": "quantitative", "scale": {"domain": [0.0942, 0.541], "nice": false, "zero": false},
    "axis": {"title": "Variant Allele Fraction", "values": [0.1, 0.2, 0.3, 0.4, 0.5], "format": ".1f",
     "ticks": false, "labelFontSize": 8, "labelPadding": 1, "titleFontSize": 8.6, "titlePadding": 0}},
   "y": {"field": "abn", "type": "nominal", "sort": ["TP53", "t(4;14)", "t(14;16)", "t(11;14)", "Normal", "Hyperploid", "del(17p)", "del(13)", "1q"],
    "scale": {"type": "point", "padding": 0.6},
    "axis": {"title": null, "ticks": false, "grid": true, "labelFontSize": 8.5, "labelPadding": 3, "labelColor": "#4D4D4D"}},
   "color": {"field": "gene", "type": "nominal"}
  }
 }
]
}
